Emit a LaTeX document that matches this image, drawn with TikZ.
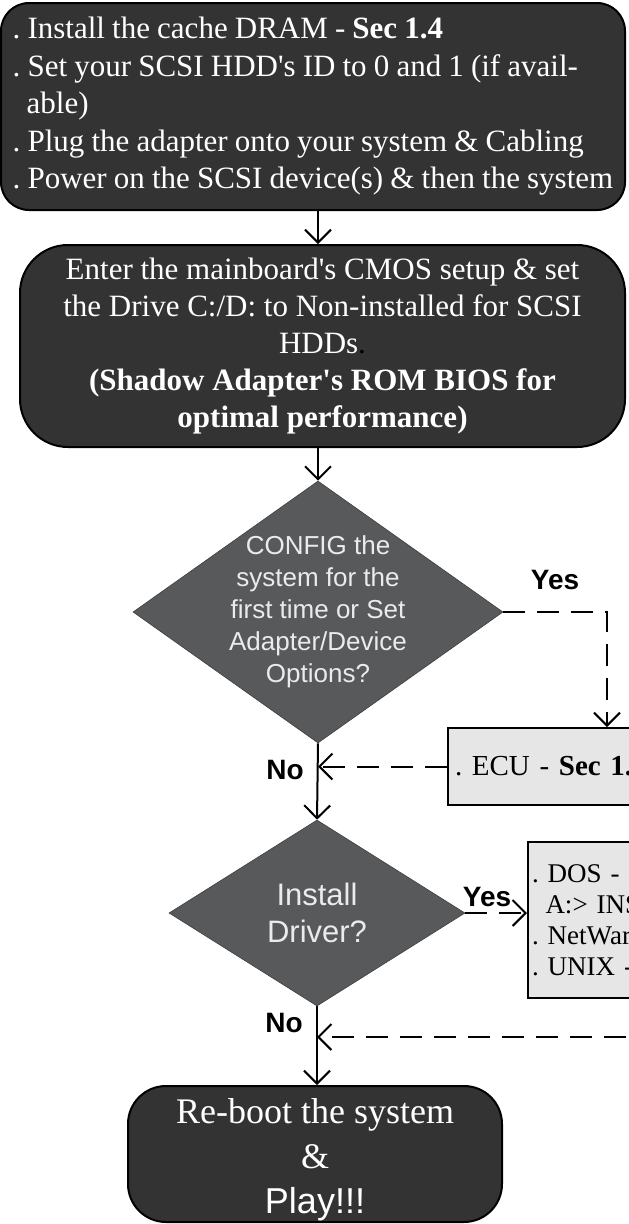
\documentclass[tikz,border=0pt]{standalone}
\usepackage{fontspec}
\setmainfont{Liberation Serif}
\setsansfont{Liberation Sans}
\newfontfamily\stepsfont[WordSpace=0.92]{Liberation Serif}
\usetikzlibrary{shapes.geometric,arrows.meta}
\definecolor{boxdark}{HTML}{333333}
\definecolor{decgray}{HTML}{58595B}
\definecolor{boxlight}{HTML}{E6E6E6}
\newcommand{\sq}{\textquotesingle}
\frenchspacing
\begin{document}
\begin{tikzpicture}[x=1pt, y=-1pt,
    darkbox/.style={draw, line width=2pt, fill=boxdark, text=white, inner sep=0pt},
    decision/.style={diamond, fill=decgray, draw=decgray!70!black, line width=0.6pt, inner sep=0pt},
    dtext/.style={text=white!92!black, align=center, font=\sffamily\fontsize{26}{32}\selectfont},
    lightbox/.style={draw, line width=2pt, fill=boxlight, inner sep=0pt},
    flow/.style={-{Straight Barb[length=13pt,width=26pt]}, line width=2pt},
    dflow/.style={flow, dash pattern=on 22pt off 12pt},
    answer/.style={font=\sffamily\bfseries\fontsize{28}{30}\selectfont}
]
    \useasboundingbox (0,0) rectangle (629,1224);
    \clip (0,0) rectangle (629,1224);

    % boxes
    \node[darkbox, rounded corners=28pt, minimum width=624pt, minimum height=207pt, align=left, font=\stepsfont\fontsize{31}{37.5}\selectfont] (install) at (313,106.5) {. Install the cache DRAM - \textbf{Sec 1.4}\\. Set your SCSI HDD\sq s ID to 0 and 1 (if avail-\\\hspace*{0.45em}able)\\. Plug the adapter onto your system \& Cabling\\. Power on the SCSI device(s) \& then the system};
    \node[darkbox, rounded corners=48pt, minimum width=605pt, minimum height=202pt, align=center, font=\fontsize{31}{37}\selectfont] (cmos) at (322.5,346) {Enter the mainboard\sq s CMOS setup \& set\\the Drive C:/D: to Non-installed for SCSI\\HDDs{\color{black}.}\\\textbf{(Shadow Adapter\sq s ROM BIOS for}\\\textbf{optimal performance)}};
    \node[decision, minimum width=370pt, minimum height=262pt] (config) at (318,612) {};
    \node[dtext] (configq) at (config) {CONFIG the\\system for the\\first time or Set\\Adapter/Device\\Options?};
    \node[lightbox, minimum width=318pt, minimum height=77pt, text width=304pt, align=left, font=\fontsize{29}{32}\selectfont] (ecu) at (607,766.5) {. ECU - \textbf{Sec 1.6}};
    \node[decision, minimum width=296pt, minimum height=186pt] (driver) at (317,913) {};
    \node[dtext, font=\sffamily\fontsize{31}{37}\selectfont] (driverq) at (driver) {Install\\Driver?};
    \node[lightbox, minimum width=300pt, minimum height=156pt, text width=292pt, align=left, font=\fontsize{27}{31}\selectfont] (drivers) at (678,920) {. DOS - \textbf{Sec 2.1}\\\hspace*{0.5em}A:> INSTALL\\. NetWare - \textbf{Sec 2.2}\\. UNIX - \textbf{Sec 2.3}};
    \node[darkbox, rounded corners=38pt, minimum width=374pt, minimum height=136pt] (reboot) at (315,1154) {};
    \node[text=white, align=center, font=\fontsize{36}{45}\selectfont] (rebootq) at (315,1160) {Re-boot the system\\\&\\{\sffamily Play!!!}};

    % answers
    \node[answer] (yes1) at (555,580) {Yes};
    \node[answer] (no1) at (285,770) {No};
    \node[answer] (yes2) at (487,897) {Yes};
    \node[answer] (no2) at (284,1023) {No};

    % flow
    \draw[flow] (config |- install.south) -- (config |- cmos.north);
    \draw[flow] (config |- cmos.south) -- (config.north);
    \draw[dflow] (config.east) -| (ecu.north);
    \draw[dflow] (ecu.west) -- (ecu.west -| config);
    \draw[flow] (config.south) -- (driver.north);
    \draw[dflow] (driver.east) -- (driver.east -| drivers.west);
    \coordinate (skip) at (660,1037);
    \draw[dflow] (skip) -- (skip -| driver);
    \draw[flow] (driver.south) -- (driver.south |- reboot.north);
\end{tikzpicture}
\end{document}
